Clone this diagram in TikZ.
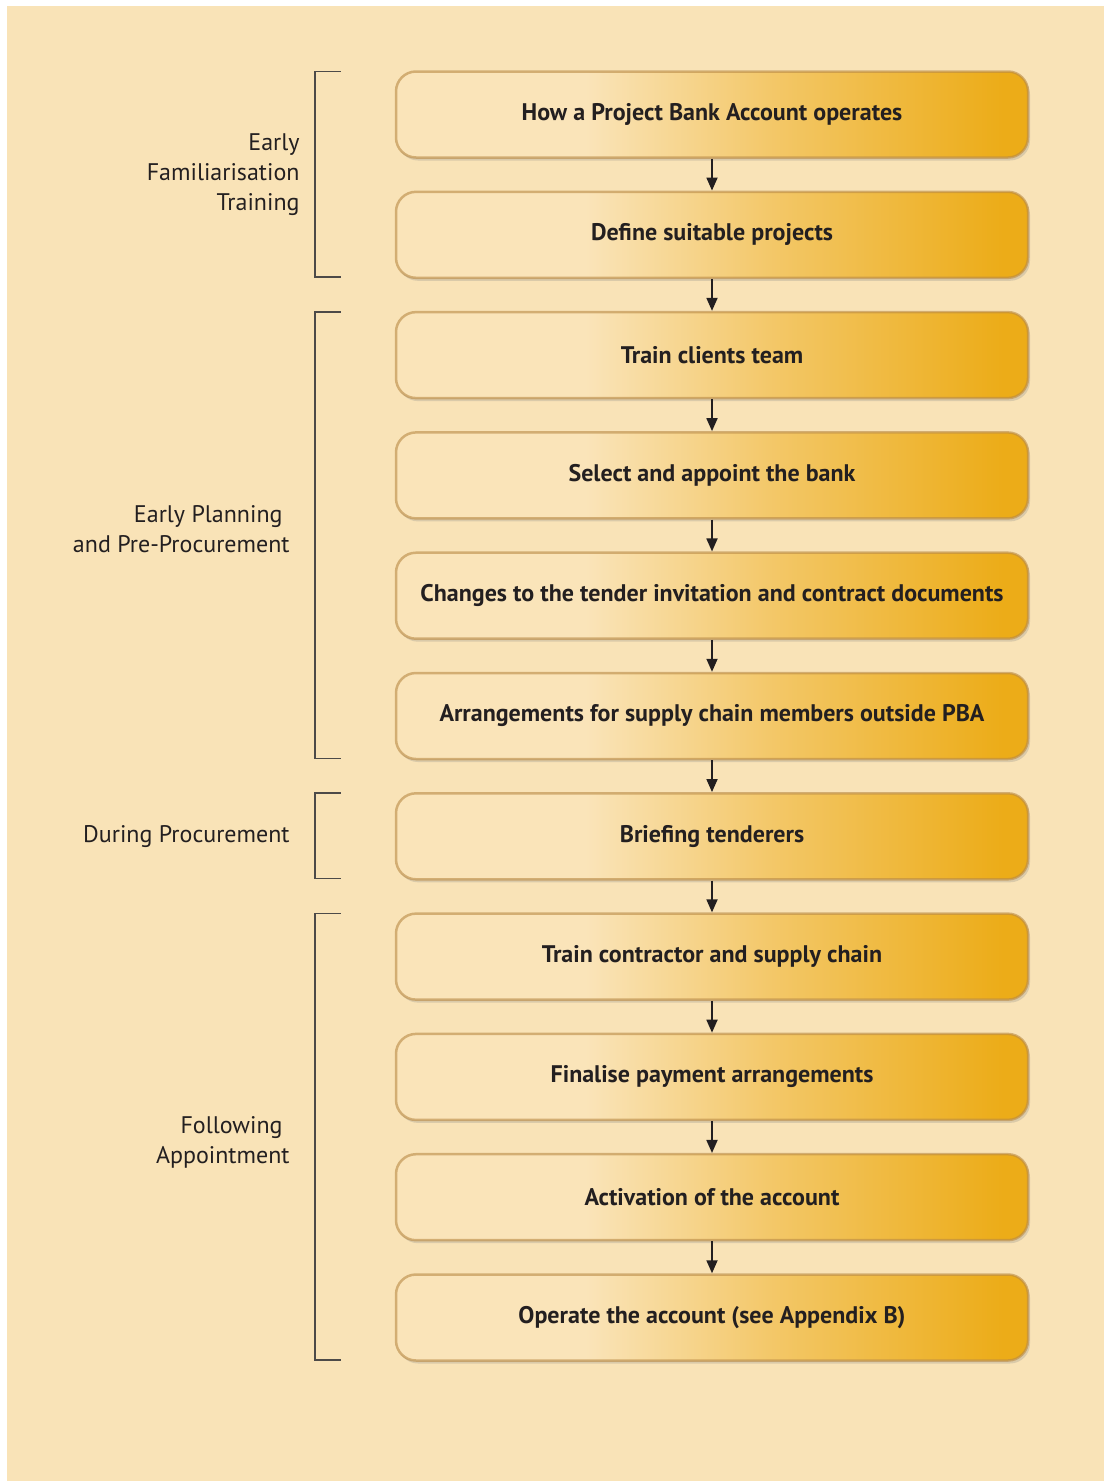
\documentclass[tikz,border=0pt]{standalone}
\usepackage{fontspec}
\setmainfont{PT Sans}
\usepackage{xcolor}
\usepackage{tikz}
\usetikzlibrary{positioning, arrows.meta, shadows, calc}
\definecolor{pagebg}{HTML}{F9E3B7}
\definecolor{boxlight}{HTML}{FAE4B9}
\definecolor{boxmid}{HTML}{F3C767}
\definecolor{boxgold}{HTML}{ECAC18}
\definecolor{boxedge}{HTML}{B98A45}
\definecolor{inkdark}{HTML}{231F20}
\definecolor{bracketgray}{HTML}{4D4A48}
\pgfdeclarehorizontalshading{boxshade}{100bp}{%
  color(0bp)=(boxlight); color(25bp)=(boxlight); color(40bp)=(boxlight);
  color(55bp)=(boxmid); color(73bp)=(boxgold); color(100bp)=(boxgold)}

\tikzset{
    stepbox/.style={shading=boxshade, rounded corners=20pt,
        minimum width=632pt, minimum height=86pt,
        draw=boxedge, draw opacity=.6, line width=2.5pt,
        drop shadow={shadow xshift=2pt, shadow yshift=-3pt, opacity=.25},
        font=\fontsize{24}{28}\selectfont\bfseries, text=inkdark},
    phase/.style={align=right, anchor=east, inner sep=0pt,
        font=\fontsize{24}{30}\selectfont, text=inkdark},
    flow/.style={-{Triangle[width=11pt, length=13pt]}, line width=1.8pt, draw=inkdark},
    brace/.style={draw=bracketgray, line width=1.5pt}
}

\begin{document}
\begin{tikzpicture}[x=1pt, y=-1pt, node distance=31.8pt]
    \useasboundingbox (0,0) rectangle (1104,1481);
    \fill[pagebg] (7,6) rectangle (1104,1481);

    \node[stepbox] (howpba) at (712,114.5) {How a Project Bank Account operates};
    \node[stepbox, below=of howpba] (define) {Define suitable projects};
    \node[stepbox, below=of define] (trainclient) {Train clients team};
    \node[stepbox, below=of trainclient] (selectbank) {Select and appoint the bank};
    \node[stepbox, below=of selectbank] (changes) {Changes to the tender invitation and contract documents};
    \node[stepbox, below=of changes] (arrange) {Arrangements for supply chain members outside PBA};
    \node[stepbox, below=of arrange] (briefing) {Briefing tenderers};
    \node[stepbox, below=of briefing] (traincontr) {Train contractor and supply chain};
    \node[stepbox, below=of traincontr] (finalise) {Finalise payment arrangements};
    \node[stepbox, below=of finalise] (activate) {Activation of the account};
    \node[stepbox, below=of activate] (operate) {Operate the account (see Appendix B)};

    \foreach \a/\b in {howpba/define, define/trainclient, trainclient/selectbank,
        selectbank/changes, changes/arrange, arrange/briefing, briefing/traincontr,
        traincontr/finalise, finalise/activate, activate/operate}
        \draw[flow] (\a.south) -- (\b.north);

    % brackets on the left
    \foreach \t/\b/\n in {howpba/define/famil, trainclient/arrange/planning,
        briefing/briefing/during, traincontr/operate/following}{
        \draw[brace] ([xshift=-54pt, yshift=-1pt]\t.north west) -- ([xshift=-80pt, yshift=-1pt]\t.north west)
            -- ([xshift=-80pt, yshift=2pt]\b.south west) -- ([xshift=-54pt, yshift=2pt]\b.south west);
        \coordinate (\n) at ($([xshift=-80pt]\t.north west)!.5!([xshift=-80pt]\b.south west)$);
    }

    \node[phase] (famlabel) at ([xshift=-15pt]famil) {Early\\Familiarisation\\Training};
    \node[phase] (planlabel) at ([xshift=-25pt, yshift=6pt]planning) {Early Planning\hspace*{7pt}\\and Pre-Procurement};
    \node[phase] (durlabel) at ([xshift=-25pt]during) {During Procurement};
    \node[phase] (follabel) at ([xshift=-25pt, yshift=-5pt]following) {Following\hspace*{7pt}\\Appointment};
\end{tikzpicture}
\end{document}
